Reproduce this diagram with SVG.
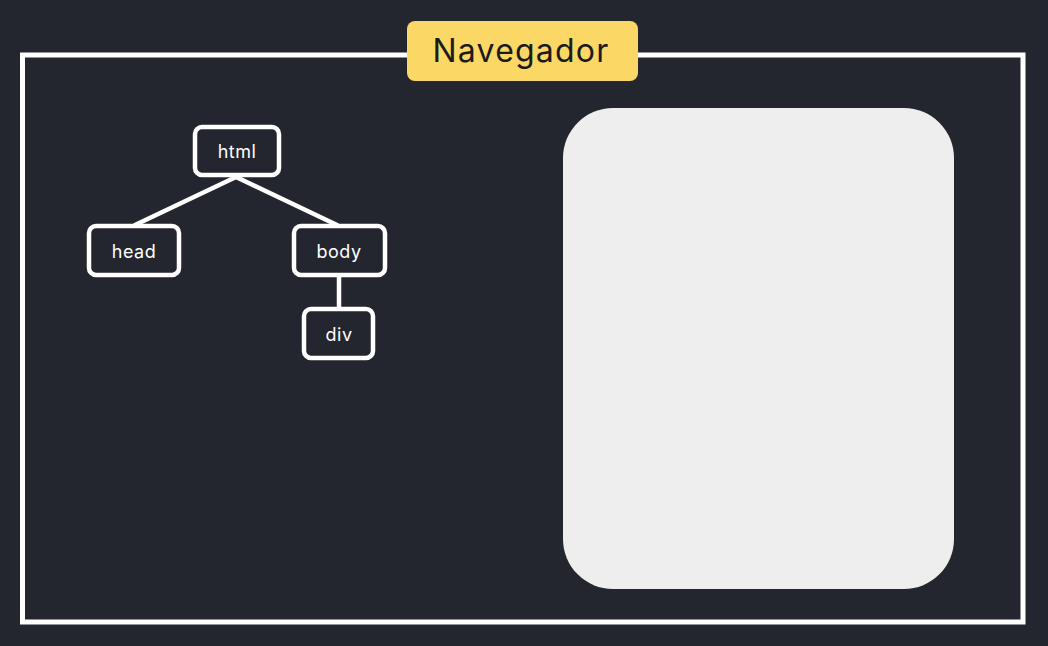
<svg xmlns="http://www.w3.org/2000/svg" width="1048" height="646" viewBox="0 0 1048 646">
<style>
.node rect{fill:#23262e;stroke:#ffffff;stroke-width:4.5}
.node text{fill:#ffffff;font-family:"Inter","Noto Sans",sans-serif;font-size:18px;letter-spacing:0.5px;text-anchor:middle}
.conn line{stroke:#ffffff;stroke-width:4.5;stroke-linecap:round}
</style>
<rect x="0" y="0" width="1048" height="646" fill="#23262e"/>
<rect x="22.5" y="55" width="1000.5" height="567" fill="none" stroke="#ffffff" stroke-width="5"/>
<g id="label">
<rect x="407" y="21" width="231" height="60" rx="8" fill="#fbd766"/>
<text x="521" y="62" font-family="Inter,'Noto Sans',sans-serif" font-size="32" letter-spacing="1.2" fill="#1b1b1b" text-anchor="middle">Navegador</text>
</g>
<g id="screen">
<rect x="563" y="108" width="391" height="481" rx="50" fill="#eeeeee"/>
</g>
<g id="connectors" class="conn">
<line x1="236" y1="177" x2="135" y2="225"/>
<line x1="236" y1="177" x2="337" y2="225"/>
<line x1="339" y1="276" x2="339" y2="308"/>
</g>
<g id="node-html" class="node">
<rect x="195" y="127" width="84" height="48" rx="7"/>
<text x="237" y="158">html</text>
</g>
<g id="node-head" class="node">
<rect x="89" y="226" width="90" height="49" rx="7"/>
<text x="134" y="258">head</text>
</g>
<g id="node-body" class="node">
<rect x="294" y="226" width="91" height="49" rx="7"/>
<text x="339" y="258">body</text>
</g>
<g id="node-div" class="node">
<rect x="304" y="309" width="69" height="49" rx="7"/>
<text x="339" y="341">div</text>
</g>
</svg>
